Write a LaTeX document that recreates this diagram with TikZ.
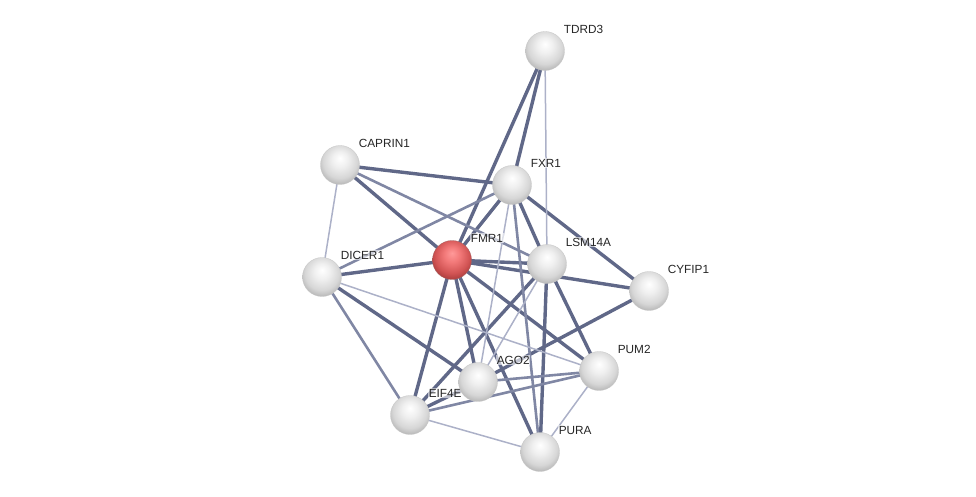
\documentclass[tikz,border=0pt]{standalone}
\usepackage{fontspec}
\setmainfont{Liberation Sans}
\usetikzlibrary{calc}
\pgfdeclarelayer{edges}
\pgfdeclarelayer{labels}
\pgfsetlayers{edges,labels,main}
\definecolor{hi}{RGB}{96,104,136}
\definecolor{mid}{RGB}{128,135,164}
\definecolor{lo}{RGB}{172,177,200}
\pgfdeclareradialshading{greyball}{\pgfpoint{0bp}{9bp}}{color(0bp)=(white); color(10bp)=(black!6);
    color(22bp)=(black!16); color(30bp)=(black!30); color(34bp)=(black!38); color(50bp)=(black!38)}
\pgfdeclareradialshading{redball}{\pgfpoint{0bp}{9bp}}{color(0bp)=(white!60!red); color(10bp)=(red!50!white!95!black);
    color(22bp)=(red!60!white!82!black); color(30bp)=(red!65!white!65!black); color(34bp)=(red!55!black); color(50bp)=(red!55!black)}
\tikzset{
    prot/.style={circle, minimum size=39pt, inner sep=0pt, shading=greyball, draw=black!22, line width=0.3pt},
    seed/.style={prot, shading=redball, draw=red!40!black!60},
    lbl/.style={anchor=west, inner sep=0.6pt, fill=white, fill opacity=0.6, text opacity=1, font=\fontsize{11.8}{14}\selectfont, text=black!85},
    strong/.style={hi, line width=3.4pt},
    medium/.style={mid, line width=2.6pt},
    weak/.style={lo, line width=1.5pt}
}
\begin{document}
\begin{tikzpicture}[x=1pt,y=-1pt]
    \useasboundingbox (0,0) rectangle (976,497);
    \node[prot] (tdrd3) at (545,51) {};
    \node[prot] (caprin1) at (340,165) {};
    \node[prot] (fxr1) at (512,185) {};
    \node[seed] (fmr1) at (452,260) {};
    \node[prot] (lsm14a) at (547,264) {};
    \node[prot] (cyfip1) at (649,291) {};
    \node[prot] (dicer1) at (322,277) {};
    \node[prot] (pum2) at (599,371) {};
    \node[prot] (ago2) at (478,382) {};
    \node[prot] (eif4e) at (410,415) {};
    \node[prot] (pura) at (540,452) {};
    \begin{pgfonlayer}{labels}
    \foreach \n/\t in {tdrd3/TDRD3, caprin1/CAPRIN1, fxr1/FXR1, fmr1/FMR1, lsm14a/LSM14A,
        cyfip1/CYFIP1, dicer1/DICER1, pum2/PUM2, ago2/AGO2, eif4e/EIF4E, pura/PURA}
        \node[lbl] (\n-l) at ($(\n.center)+(18,-22)$) {\t};
    \end{pgfonlayer}
    \begin{pgfonlayer}{edges}
    \foreach \a/\b in {tdrd3/fmr1, tdrd3/fxr1, caprin1/fmr1, caprin1/fxr1, fxr1/fmr1, fxr1/lsm14a,
        fxr1/cyfip1, fmr1/lsm14a, fmr1/cyfip1, fmr1/dicer1, fmr1/eif4e, fmr1/ago2, fmr1/pum2,
        fmr1/pura, lsm14a/eif4e, lsm14a/pura, lsm14a/pum2, cyfip1/ago2, dicer1/ago2, eif4e/ago2}
        \draw[strong] (\a.center) -- (\b.center);
    \foreach \a/\b in {caprin1/lsm14a, fxr1/dicer1, fxr1/pura, dicer1/eif4e, ago2/pum2, eif4e/pum2}
        \draw[medium] (\a.center) -- (\b.center);
    \foreach \a/\b in {tdrd3/lsm14a, caprin1/dicer1, fxr1/ago2, lsm14a/ago2, dicer1/pum2,
        eif4e/pura, pum2/pura}
        \draw[weak] (\a.center) -- (\b.center);
    \end{pgfonlayer}
\end{tikzpicture}
\end{document}
